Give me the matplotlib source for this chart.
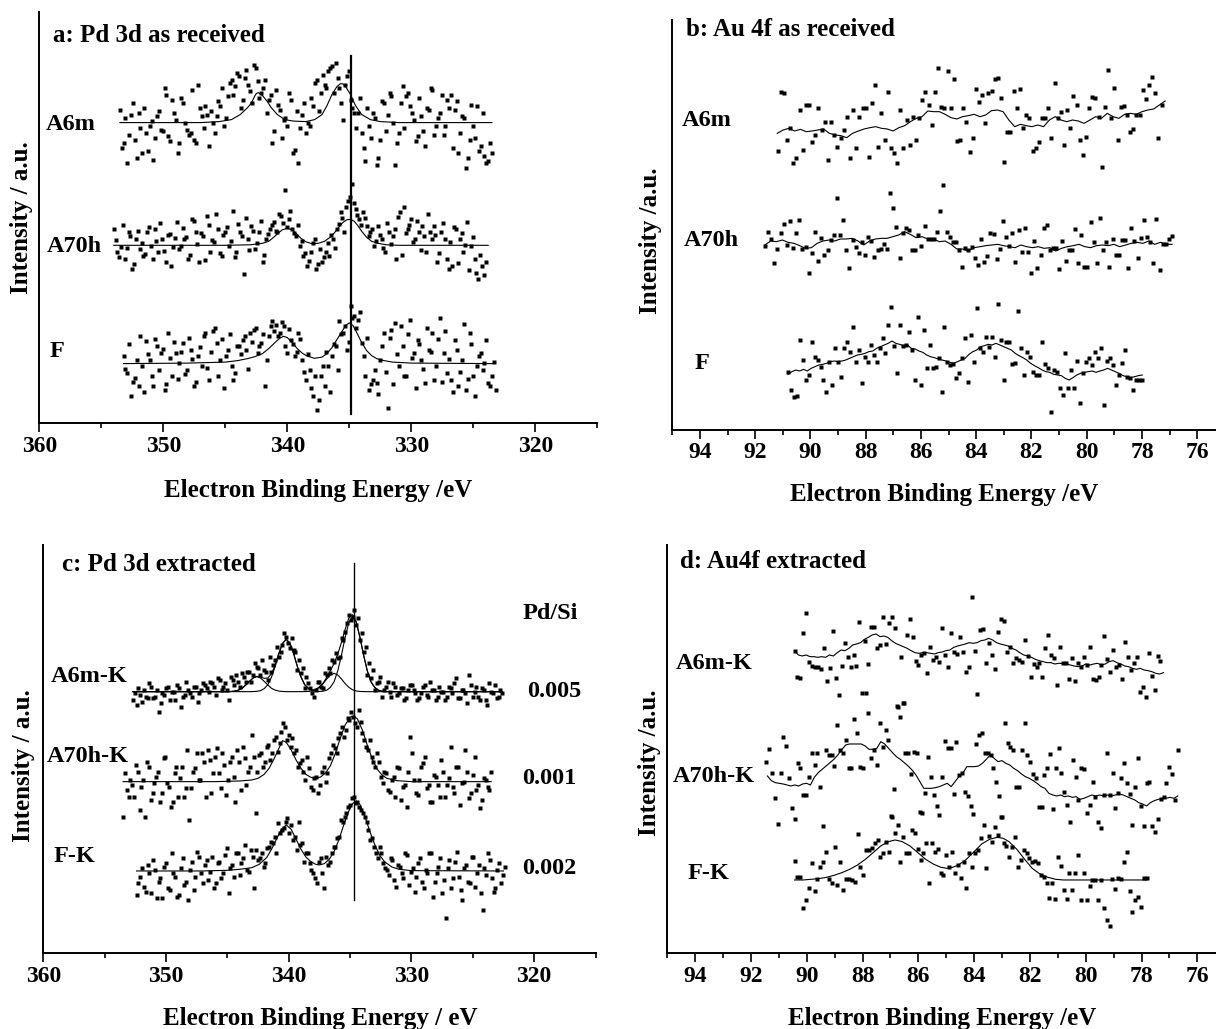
import numpy as np
import matplotlib
matplotlib.use("Agg")
import matplotlib.pyplot as plt
from matplotlib.ticker import MultipleLocator

plt.rcParams['font.family'] = ['Liberation Serif', 'DejaVu Serif']
plt.rcParams['font.weight'] = 'bold'

# ---------------- Panel a : Pd 3d as received (intensity offsets, a.u.) ----------------
a_base = [300.7, 178.0, 59.7]                     # stacking offsets A6m, A70h, F
a_A6m_range = (353.5, 323.5)
a_A6m = [13, -20, -40, 8, -17, 10, -30, -10, -3, -37, 7, -7,
         35, -13, 23, 3, -20, 20, -7, -10, -17, 38, 7, 17, -23, 0,
         7, 17, -3, 27, 43, 37, 47, 23, 53, 32, 58, 42, 30,
         43, 23, -20, 33, 13, 3, -3, 23, -27, -40, 8, -10, -3,
         17, 43, 30, 38, 52, 57, 60, 35, 3, 47, 23, 10,
         10, -10, -38, -3, 10, -42, -17, 20, 8, 27, -42, -10,
         37, 27, 17, 3, -13, 7, -23, 13, 33, -3, 10, -12, 23,
         28, 13, -30, 7, -45, -17, -3, 17, -23, -33, -38, -30]
a_A6m_2_range = (353.35, 323.65)
a_A6m_2 = [-25, 5, -12, 20, -35, -5, 15, -28, 2, -15, 12,
           -8, 28, -18, 10, -30, 25, 0, -12, 33, -20, 15, -5, 8,
           12, -10, 22, 35, 5, 40, 28, 50, 15, 45, 38, 20, 55, 25,
           35, 10, 28, -8, 18, -15, 5, 30, -30, 12, -5, 20, 0,
           25, 40, 12, 48, 35, 55, 30, 45, 20, 38, 52, 15,
           -5, 25, -25, 15, -15, 5, -35, 22, -8, 30, 0, -20,
           20, -5, 30, 10, -18, 25, -8, 15, 35, -12, 5, 28, -3,
           15, -25, 22, -10, 5, -35, 18, -15, -28, 10, -40, -20]
a_A70h_range = (354.0, 324.0)
a_A70h = [16, -7, -2, -14, 13, -24, 6, -4, -11, 13, -1, 16, -7, 6, -17, 11, -2,
          23, -1, 6, -14, 26, 13, -17, 9, 29, -7, 3, 16, -11, 13,
          -1, 34, -7, 13, -29, 6, 19, -4, 13, -17, 6,
          16, 23, 13, 29, 55, 26, 16, 9,
          -1, -11, -21, -7, 6, -19, -17,
          -7, -11, 6, 16, 33, 13, 44,
          61, 36, 26, 33, 19, 13, -1,
          19, 6, -7, 13, 9, -14, 33, 38, 16, 26, 6, 13, 19, -7, 13,
          19, -17, 13, 6, -24, -21, 16, 6, -7, 23, -1, -14, -34, -21, -17]
a_A70h_2_range = (353.85, 324.15)
a_A70h_2 = [5, -12, 20, -3, 9, -19, 14, 2, -9, 18, -14, 4, 22, -6, 10, -21, 7,
            -4, 17, 8, -10, 24, 1, 12, -15, 20, 5, 31, -8, 10, 18,
            4, -12, 21, 9, 27, -5, 14, 2, 24, -10, 11,
            20, 14, 31, 22, 18, 34, 12, 20,
            4, -8, -16, 2, -24, -4, -12,
            2, 10, -3, 21, 27, 38, 48,
            42, 30, 20, 27, 9, 16, 4,
            10, -3, 22, 1, 16, 28, -10, 12, 20, 3, 24, -5, 9, 31, 6,
            10, -8, 22, -14, 3, 18, -18, 12, 0, -25, 8, -28, -10, -30]
a_F_range = (353.2, 323.2)
a_F = [8, -9, -32, -14, -22, -2, 23, 4, -22, 18, 11, -26, 31, -12, 11, 1,
       21, -6, 14, -22, 8, -2, 31, -16, 33, 21, 4, -24, 14, -2, -9,
       18, 24, 14, 31, 34, 11, 21, -22, 28, 43,
       39, 31, 38, 11, 24, 8, 31,
       4, -16, -6, -32, -46, -12, -22, -2,
       8, 18, 43, 31, 14, 58,
       48, 44, 21, -12, -26, -16,
       -19, 4, 31, -44, 34, 41, -2, 18, -12, 44, 11, 24, 4, -19, 14, 31, -2,
       46, 11, -9, -16, 24, -22, 4, -26, 31, -12, -2, 11, 1, -19, -12, -26]
a_F_2_range = (353.05, 323.35)
a_F_2 = [-5, 20, -18, 4, 28, -28, 10, -12, 25, -6, 15, -20, 6, 22, -15, 12,
         -10, 26, 5, -18, 17, 28, -4, 12, 36, -12, 25, 8, 30, -16, 18,
         10, 28, -5, 22, 36, 18, 30, 4, 38, 33,
         28, 42, 18, 35, 20, 12, 25,
         -8, 10, -24, -12, -36, -2, 12, -28,
         20, -6, 30, 38, 22, 46,
         36, 52, 8, 26, -20, -6,
         -30, 18, -8, 26, -20, 10, 38, -12, 30, 6, -24, 20, -5, 36, 12, -16, 25,
         -18, 33, 5, -28, 14, -8, 40, -15, 20, -32, 8, -6, 24, -22, 2]
a_A6m_fit_x = [353.5, 347, 345.5, 344.5, 343.8, 343.2, 343.0, 342.8, 342.65, 342.5,
               342.35, 342.2, 342.0, 341.8, 341.55, 341.3, 340.8, 340.2, 339.5, 338.5,
               337.8, 337.2, 336.8, 336.4, 336.2, 336.0, 335.7, 335.5, 335.3, 335.1,
               334.9, 334.5, 334.0, 333.3, 332.5, 331, 323.5]
a_A6m_fit_y = [0, 0, 1, 3, 8, 15, 18, 22, 26, 29, 30, 29, 27, 24, 20, 15, 8, 3, 1.5, 1,
               3, 8, 17, 28, 32, 36, 39, 38.5, 36, 32, 28, 17, 8, 3, 1, 0, 0]
a_A70h_fit_x = [354.0, 345, 343, 342, 341.5, 341.1, 340.7, 340.4, 340.0, 339.6, 339.3,
                338.9, 338.5, 338.0, 337.5, 337.0, 336.6, 336.2, 335.8, 335.5, 335.2,
                334.9, 334.6, 334.3, 334.0, 333.6, 333.2, 332.7, 332.0, 331, 323.8]
a_A70h_fit_y = [0, 0, 0.5, 2, 4, 8, 12.5, 15.5, 17, 15.5, 12, 7, 3.5, 1.5, 2, 4, 7.5,
                12.5, 19, 23, 25.5, 26, 24, 19.5, 14, 8, 4, 2, 0.5, 0, 0]
a_F_fit_x = [353.2, 348, 345, 344, 343.2, 342.6, 342.0, 341.5, 341.0, 340.6, 340.3, 340.0,
             339.6, 339.2, 338.8, 338.4, 337.8, 337.2, 336.8, 336.4, 336.0, 335.6, 335.3,
             335.0, 334.7, 334.4, 334.0, 333.6, 333.2, 332.8, 332.2, 331.5, 330, 323.4]
a_F_fit_y = [0, 0.5, 1.5, 3, 5, 7, 10, 15, 21, 25.5, 27.3, 26, 21, 15, 10.5, 7.5, 5.3,
             6.5, 10, 16, 24, 32, 38, 40.7, 38, 31, 21, 13, 8, 5, 3, 1.5, 0.5, 0]
a_vline = (334.9, 9, 367)

# ---------------- Panel b : Au 4f as received (a.u.) ----------------
b_A6m_range = (91.19, 77.29)
b_A6m = [837, 1013, 1010, 870, 905, 800, 815, 960, 840, 975, 975, 865, 885, 965, 900, 925,
         810, 925, 885, 850, 875, 900, 940, 815, 960, 845, 940, 965, 965, 820, 980, 1035,
         850, 950, 870, 1013, 845, 830, 800, 960, 845, 930, 855, 940, 870, 935, 990, 1015,
         975, 915, 1015, 1085, 970, 965, 1077, 965, 1053, 867, 870, 967, 925, 835, 877,
         1023, 985, 1005, 920, 1010, 1017, 1053, 1057, 995, 805, 895, 893, 1017, 967, 1023,
         907, 945, 935, 837, 845, 865, 935, 935, 967, 875, 1040, 935, 955, 855, 960, 905,
         1002, 975, 870, 825, 880, 965, 1000, 995, 940, 790, 970, 1080, 935, 1025, 870, 970,
         972, 945, 895, 903, 945, 945, 1020, 993, 1035, 1060, 1010, 877, 975]
b_A6m_line_range = (91.2, 77.16)
b_A6m_line = [890, 900, 905, 897, 902, 895, 897, 900, 903, 890, 885, 883, 877, 890, 897, 903,
              907, 910, 905, 903, 897, 907, 913, 925, 935, 940, 957, 955, 955, 947, 937, 933,
              940, 943, 947, 940, 945, 958, 960, 955, 930, 910, 917, 913, 910, 915, 910, 930,
              940, 930, 925, 930, 927, 920, 930, 940, 935, 950, 940, 935, 947, 950, 947, 955,
              960, 963, 975, 987]
b_A70h_range = (91.65, 76.91)
b_A70h = [553, 593, 573, 500, 543, 590, 617, 555, 627, 545, 590, 630, 543, 550, 470, 530,
          595, 507, 575, 525, 540, 570, 585, 695, 585, 630, 540, 487, 570, 550, 530, 565,
          525, 580, 567, 520, 540, 543, 557, 543, 710, 665, 610, 515, 590, 607, 600, 540,
          540, 585, 553, 613, 573, 573, 573, 595, 657, 735, 595, 580, 565, 565, 540, 490,
          545, 540, 550, 515, 495, 573, 505, 523, 592, 587, 512, 543, 627, 580, 553, 590,
          505, 600, 535, 605, 535, 470, 567, 485, 525, 607, 615, 540, 545, 547, 483, 568,
          507, 540, 540, 602, 500, 585, 490, 490, 623, 565, 501, 635, 540, 565, 490, 573,
          525, 525, 570, 570, 487, 607, 567, 517, 577, 630, 579, 563, 500, 633, 480, 557,
          557, 573, 582]
b_A70h_line_range = (91.65, 76.91)
b_A70h_line = [555, 567, 565, 570, 563, 560, 553, 545, 547, 560, 567, 570, 567, 573, 573, 575,
               567, 555, 567, 573, 575, 575, 580, 585, 595, 587, 577, 580, 573, 573, 565, 567,
               557, 543, 543, 537, 547, 550, 553, 555, 557, 553, 550, 547, 555, 550, 547, 550,
               545, 547, 537, 545, 550, 553, 557, 550, 547, 553, 555, 553, 557, 550, 555, 560,
               563, 560, 567, 557, 563, 557, 557]
b_F_range = (90.81, 77.99)
b_F = [175, 120, 100, 102, 270, 210, 150, 165, 265, 220, 210, 190, 150, 115, 205, 135, 245,
       205, 160, 247, 265, 235, 310, 205, 240, 140, 220, 205, 255, 225, 205, 245, 275, 230,
       315, 370, 253, 170, 315, 253, 255, 295, 240, 150, 340, 135, 300, 185, 255, 185, 190,
       217, 115, 310, 205, 195, 197, 157, 170, 217, 275, 145, 285, 203, 365, 245, 235, 280,
       250, 280, 220, 377, 270, 150, 263, 265, 197, 200, 357, 245, 165, 233, 220, 173, 165,
       165, 263, 197, 185, 55, 180, 175, 125, 105, 230, 125, 180, 125, 207, 80, 170, 205,
       215, 195, 235, 215, 245, 75, 207, 215, 195, 135, 165, 200, 240, 160, 155, 120, 150,
       150, 150]
b_F_line_range = (90.81, 77.99)
b_F_line = [167, 175, 180, 177, 182, 177, 185, 190, 195, 197, 200, 205, 207, 205, 207, 210,
            215, 220, 225, 227, 230, 235, 237, 245, 250, 255, 260, 267, 260, 257, 253, 255,
            245, 243, 237, 233, 225, 220, 217, 213, 210, 207, 203, 200, 205, 210, 215, 227,
            235, 240, 250, 253, 257, 255, 260, 255, 250, 245, 240, 230, 223, 217, 210, 200,
            193, 187, 180, 175, 173, 167, 165, 163, 155, 150, 157, 165, 170, 173, 175, 177,
            173, 177, 180, 185, 180, 175, 170, 163, 160, 157, 160, 163, 165]

# ---------------- Panel c : Pd 3d extracted (a.u.) ----------------
c_base = [785, 515, 247]
c_A6m_range = (352.7, 322.6)
c_A6m = [760, 745, 775, 790, 765, 800, 770, 725, 780, 795, 760, 785, 805, 740, 775, 790,
         770, 800, 780, 810, 795, 815, 800, 825, 790, 810, 760, 820, 835, 800, 830, 845,
         815, 870, 855, 880, 845, 890, 865, 920, 905, 960, 930, 945, 905, 880, 855, 830,
         795, 770, 815, 800, 840, 855, 880, 900, 890, 940, 990, 1000, 1030, 1005, 960, 920,
         870, 850, 810, 830, 790, 815, 770, 800, 780, 795, 765, 805, 790, 760, 780, 805,
         770, 790, 760, 800, 785, 770, 795, 810, 765, 790, 780, 835, 770, 800, 760, 790,
         745, 785, 805, 770, 780]
c_A6m_2_range = (352.55, 322.75)
c_A6m_2 = [780, 795, 755, 770, 810, 765, 790, 750, 775, 800, 785, 760, 795, 770, 815, 780,
           800, 755, 790, 805,
           785, 810, 775, 820, 800, 790, 830, 805, 815, 840,
           815, 845, 835, 860, 835,
           850, 820, 845, 880, 890,
           925, 950, 915, 910, 850,
           840, 795, 810, 780, 790,
           815, 795, 835, 840, 875,
           885, 945, 965, 1015, 1010,
           985, 940, 905, 835, 825,
           790, 815, 770, 800, 785,
           810, 775, 795, 760, 790, 805, 780, 765, 800, 775, 815, 790, 770, 785, 760, 800,
           780, 825, 765, 790, 750, 805, 785, 770, 795, 760, 810, 780, 765, 790]
c_A70h_range = (353.5, 323.5)
c_A70h = [410, 490, 520, 470, 545, 500, 410, 560, 480, 530, 455, 585, 510, 440, 540, 470,
          560, 495, 400, 545, 600, 520, 575, 610, 480, 590, 540, 600, 475, 575, 530, 610,
          490, 585, 545, 655, 420, 595, 560, 620, 580, 640, 605, 665, 680, 655, 645, 610,
          570, 545, 590, 500, 525, 480, 545, 515, 585, 625, 600, 660, 650, 705, 725, 690,
          730, 660, 620, 640, 575, 600, 530, 545, 490, 520, 470, 555, 500, 440, 650, 520,
          475, 560, 590, 505, 455, 530, 470, 545, 505, 620, 480, 560, 510, 610, 465, 535,
          490, 435, 525, 500, 545]
c_A70h_2_range = (353.35, 323.65)
c_A70h_2 = [540, 470, 505, 565, 430, 520, 575, 460, 510, 545, 480, 590, 500, 455, 560, 525,
            470, 610, 495, 555,
            520, 600, 470, 580, 540, 615, 495, 565, 520, 590, 455, 575, 620, 505, 560,
            590, 545, 600, 575, 625, 600, 650, 630, 690, 640,
            620, 600, 560, 580, 520, 555, 490,
            530, 505, 560, 540, 600,
            615, 645, 680, 670, 700, 710, 680, 695, 640, 610,
            590, 560, 575, 510, 540, 485, 530, 560, 460, 505, 545, 600, 480, 520, 570, 495,
            455, 535, 505, 580, 470, 525, 500, 560, 445, 515, 545, 480, 590, 505, 460, 520,
            490]
c_F_range = (352.4, 322.4)
c_F = [175, 230, 200, 265, 180, 250, 215, 165, 270, 190, 240, 170, 255, 205, 160, 275,
       230, 290, 210, 280, 245, 195, 270, 225, 295, 180, 265, 300, 235, 285, 250, 310,
       195, 280, 300, 270, 320, 330, 300, 360, 375, 405, 385, 350, 395, 330, 300, 270,
       240, 210, 285, 195, 265, 300, 320, 350, 395, 420, 445, 470, 455, 430, 410, 370,
       345, 300, 320, 270, 250, 285, 220, 265, 240, 300, 205, 255, 230, 285, 195, 240,
       300, 215, 260, 180, 105, 280, 225, 305, 190, 255, 215, 290, 200, 265, 130, 235,
       280, 185, 250, 210, 260]
c_F_2_range = (352.25, 322.55)
c_F_2 = [210, 255, 185, 240, 280, 165, 225, 260, 195, 300, 230, 175, 285, 215, 250, 190,
         305, 240, 265, 220,
         290, 210, 275, 240, 315, 255, 230, 300, 270, 325, 245, 290, 310,
         285, 260, 315, 335, 350, 390, 370, 395, 360,
         340, 310, 325, 275, 300, 250, 225, 275, 240,
         290, 275, 320, 345, 400, 410, 440, 465, 450, 440,
         420, 395, 340, 320, 285, 300, 255,
         235, 280, 200, 260, 225, 295, 245, 185, 270, 215, 250, 300, 170, 240, 285, 220,
         255, 195, 275, 230, 160, 265, 210, 290, 240, 180, 255, 300, 225, 195, 270, 235]
c_A6m_fit_x = [352.7, 349, 346.5, 345.0, 344.7, 344.4, 344.1, 343.8, 343.5, 343.2, 342.9,
               342.6, 342.3, 342.0, 341.7, 341.4, 341.1, 340.8, 340.5, 340.2, 339.9, 339.6,
               339.3, 339.0, 338.7, 338.4, 338.1, 337.8, 337.5, 337.2, 336.9, 336.6, 336.3,
               336.0, 335.7, 335.4, 335.1, 334.8, 334.5, 334.2, 333.9, 333.6, 333.3, 333.0,
               332.7, 332.4, 332.1, 331.8, 329, 322.6]
c_A6m_compA = [0, 0, 0, 0, 0, 0, 0, 0, 0, 0, 0.3, 1, 3, 9, 21, 44, 76, 114, 145, 157, 145,
               114, 76, 44, 21, 9, 3, 1, 0.6, 1.4, 4.5, 13, 30, 63, 110, 163, 208, 225, 208,
               163, 110, 63, 30, 13, 4.5, 1.4, 0.4, 0, 0, 0]
c_A6m_compB = [0, 0, 0, 0.1, 0.5, 1.7, 4.5, 10, 20, 31, 41, 45, 41, 31, 20, 10, 4.5, 1.7,
               0.5, 0.1, 0, 0, 0, 0.1, 0.2, 0.6, 2, 5.6, 13, 24, 38, 50, 55, 50, 38, 24, 13,
               5.6, 2, 0.6, 0.2, 0, 0, 0, 0, 0, 0, 0, 0, 0]
c_A6m_fit = [0, 0, 0, 0, 0.5, 1.7, 4.5, 10, 20, 31, 41, 46, 44, 40, 41, 54, 80, 116, 145,
             157, 145, 114, 76, 44, 21, 10, 5, 7, 14, 25, 43, 63, 85, 113, 148, 187, 221,
             231, 210, 164, 110, 63, 30, 13, 4.5, 1.4, 0.4, 0, 0, 0]
c_A70h_fit_x = [353.5, 346, 344, 343, 342.5, 342, 341.6, 341.2, 340.8, 340.5, 340.2, 339.8,
                339.4, 339, 338.6, 338.2, 337.8, 337.4, 337, 336.6, 336.2, 335.8, 335.4,
                335, 334.7, 334.4, 334, 333.6, 333.2, 332.8, 332.4, 332, 331.2, 330, 323.5]
c_A70h_fit = [0, 0, 2, 5, 10, 22, 40, 68, 100, 123, 118, 95, 65, 40, 22, 13, 10, 14, 26,
              48, 85, 130, 170, 193, 197, 188, 155, 110, 68, 38, 20, 10, 3, 0, 0]
c_F_fit_x = [352.4, 347, 345, 344, 343, 342.4, 341.8, 341.4, 341, 340.6, 340.2, 339.8,
             339.4, 339, 338.6, 338.2, 337.8, 337.5, 337.1, 336.7, 336.3, 335.9, 335.5,
             335.1, 334.8, 334.5, 334.2, 333.8, 333.4, 333, 332.6, 332.2, 331.6, 331, 330,
             322.5]
c_F_fit = [0, 0, 2, 5, 10, 20, 40, 65, 95, 125, 138, 125, 95, 65, 42, 28, 20, 18, 22, 35,
           58, 95, 140, 180, 202, 210, 200, 165, 120, 80, 48, 28, 12, 5, 1, 0]
c_vline = (334.7, 160, 1170)
c_ratio_labels = ['0.005', '0.001', '0.002']

# ---------------- Panel d : Au 4f extracted (a.u.) ----------------
d_A6m_range = (90.44, 77.32)
d_A6m = [908, 830, 825, 960, 1022, 875, 862, 860, 860, 852, 915, 818, 855, 968, 825, 775,
         862, 932, 888, 860, 895, 862, 995, 780, 938, 868, 978, 978, 915, 925, 1010, 928,
         990, 1008, 975, 738, 888, 750, 955, 1002, 948, 878, 865, 895, 900, 840, 918, 880,
         890, 875, 975, 895, 860, 960, 905, 898, 948, 905, 845, 860, 1068, 908, 778, 970,
         972, 872, 932, 895, 852, 965, 1002, 998, 905, 918, 870, 885, 880, 875, 940, 892,
         828, 868, 860, 870, 828, 915, 955, 895, 885, 805, 920, 870, 872, 822, 885, 818,
         870, 860, 888, 865, 920, 822, 820, 830, 865, 952, 882, 845, 910, 860, 865, 822,
         935, 888, 850, 872, 888, 785, 800, 770, 900, 832, 790, 892, 878]
d_A6m_line_range = (90.44, 77.21)
d_A6m_line = [908, 895, 892, 895, 890, 890, 888, 890, 888, 895, 892, 902, 910, 908, 915, 925,
              928, 932, 942, 948, 955, 958, 950, 952, 948, 938, 930, 925, 920, 915, 908, 902,
              900, 902, 902, 900, 898, 902, 904, 908, 910, 918, 922, 925, 928, 932, 930, 932,
              938, 940, 945, 940, 932, 928, 925, 922, 915, 910, 902, 895, 892, 888, 882, 878,
              875, 872, 872, 868, 870, 870, 868, 865, 862, 860, 862, 868, 865, 868, 870, 865,
              868, 875, 878, 872, 868, 862, 860, 855, 852, 855, 850, 848, 845, 840, 838, 842]
d_A70h_range = (91.45, 76.70)
d_A70h = [575, 612, 540, 465, 388, 540, 650, 622, 525, 435, 402, 572, 555, 475, 475, 530,
          600, 565, 600, 500, 382, 610, 595, 595, 562, 685, 610, 600, 640, 555, 555, 702,
          660, 560, 555, 782, 722, 585, 610, 565, 692, 620, 670, 640, 412, 492, 742, 708,
          750, 600, 602, 538, 605, 600, 425, 422, 482, 588, 528, 475, 442, 415, 530, 638,
          615, 615, 478, 635, 535, 540, 485, 472, 442, 418, 628, 655, 660, 600, 600, 595,
          555, 515, 472, 410, 690, 632, 620, 610, 500, 500, 610, 690, 595, 575, 538, 525,
          440, 438, 535, 555, 598, 432, 555, 617, 540, 485, 445, 395, 580, 528, 460, 555,
          552, 420, 445, 515, 468, 395, 375, 475, 602, 475, 542, 435, 482, 525, 570, 512,
          478, 385, 500, 585, 442, 382, 510, 515, 382, 365, 402, 462, 468, 510, 558, 538,
          460, 610]
d_A70h_line_range = (91.41, 76.70)
d_A70h_line = [532, 518, 512, 510, 508, 505, 502, 505, 502, 508, 510, 505, 528, 542, 552, 562,
               572, 582, 595, 610, 625, 628, 628, 628, 628, 622, 612, 612, 615, 635, 628, 615,
               602, 590, 582, 572, 562, 550, 535, 515, 495, 495, 495, 497, 500, 505, 510, 500,
               515, 530, 540, 560, 560, 560, 562, 570, 582, 595, 585, 575, 578, 570, 565, 555,
               548, 538, 530, 525, 518, 510, 500, 495, 480, 475, 472, 475, 470, 472, 468, 470,
               462, 465, 470, 475, 472, 475, 472, 475, 472, 475, 478, 475, 470, 465, 460, 452,
               448, 442, 452, 458, 462, 465, 465, 468, 465, 472]
d_F_range = (90.44, 77.81)
d_F = [278, 230, 230, 135, 160, 195, 270, 188, 222, 260, 275, 305, 222, 210, 320, 205, 275,
       190, 222, 222, 220, 215, 358, 260, 235, 310, 310, 315, 332, 340, 290, 300, 335, 305,
       410, 360, 385, 275, 348, 300, 302, 370, 362, 312, 280, 300, 330, 212, 330, 305, 312,
       240, 235, 295, 260, 305, 240, 265, 225, 275, 195, 302, 260, 300, 310, 345, 385, 255,
       352, 335, 380, 355, 410, 330, 322, 290, 318, 350, 260, 280, 310, 300, 285, 275, 278,
       270, 235, 230, 210, 165, 210, 162, 290, 262, 190, 162, 240, 190, 240, 295, 160, 240,
       160, 202, 220, 220, 160, 220, 135, 100, 82, 222, 192, 225, 222, 275, 303, 188, 125,
       160, 170, 140, 225, 225]
d_F_fit_x = [90.44, 90.13, 89.85, 89.57, 89.29, 89.02, 88.74, 88.46, 88.18, 87.90, 87.62,
             87.35, 87.07, 86.83, 86.58, 86.30, 86.02, 85.74, 85.47, 85.19, 84.98, 84.77,
             84.56, 84.28, 84.00, 83.73, 83.45, 83.17, 82.96, 82.75, 82.47, 82.19, 81.92,
             81.64, 81.36, 81.08, 80.80, 80.38, 79.69, 78.99, 78.30, 77.81]
d_F_fit = [220, 220, 222, 224, 228, 234, 242, 252, 265, 282, 302, 322, 335, 340, 335, 322,
           302, 282, 268, 258, 255, 258, 265, 282, 305, 328, 342, 348, 345, 335, 312, 282,
           255, 238, 228, 222, 220, 220, 220, 220, 220, 220]

# ---------------- figure layout ----------------
W, H = 1216, 1029
fig = plt.figure(figsize=(W / 100, H / 100), dpi=100)


def add_axes(l, t, r, b):
    return fig.add_axes([l / W, 1 - b / H, (r - l) / W, (b - t) / H])


def style(ax, xlim, ylim, major, minor):
    ax.set_xlim(*xlim)
    ax.set_ylim(*ylim)
    for s in ('top', 'right'):
        ax.spines[s].set_visible(False)
    for s in ('left', 'bottom'):
        ax.spines[s].set_linewidth(1.4)
    ax.xaxis.set_major_locator(MultipleLocator(major))
    ax.xaxis.set_minor_locator(MultipleLocator(minor))
    ax.tick_params(axis='x', which='major', direction='out', length=6.5, width=1.2,
                   labelsize=17, pad=2.5)
    ax.tick_params(axis='x', which='minor', direction='out', length=3.5, width=1.2)
    ax.tick_params(axis='y', which='both', left=False, labelleft=False)
    ax.patch.set_alpha(0)


def dots(ax, rng, vals, base=0.0):
    x = np.linspace(rng[0], rng[1], len(vals))
    ax.plot(x, np.asarray(vals, float) + base, ls='none', marker='s', ms=2.3,
            mfc='k', mec='none', zorder=3)


def line(ax, x, y, base=0.0, lw=0.8):
    ax.plot(x, np.asarray(y, float) + base, color='k', lw=lw, zorder=4)


def uline(ax, rng, y, lw=0.8):
    x = np.linspace(rng[0], rng[1], len(y))
    ax.plot(x, y, color='k', lw=lw, zorder=4)


TXT = dict(fontsize=17.5, fontweight='bold', va='center')

# panel a
axA = add_axes(39.3, 12, 597.3, 423.3)
style(axA, (360, 315), (0, 411.3), 10, 5)
dots(axA, a_A6m_range, a_A6m, a_base[0])
dots(axA, a_A6m_2_range, a_A6m_2, a_base[0])
dots(axA, a_A70h_range, a_A70h, a_base[1])
dots(axA, a_A70h_2_range, a_A70h_2, a_base[1])
dots(axA, a_F_range, a_F, a_base[2])
dots(axA, a_F_2_range, a_F_2, a_base[2])
line(axA, a_A6m_fit_x, a_A6m_fit_y, a_base[0])
line(axA, a_A70h_fit_x, a_A70h_fit_y, a_base[1])
line(axA, a_F_fit_x, a_F_fit_y, a_base[2])
axA.plot([a_vline[0]] * 2, a_vline[1:], color='k', lw=1.6, zorder=5)
axA.text(358.9, 388, 'a: Pd 3d as received', ha='left', fontsize=18, fontweight='bold', va='center')
axA.text(357.5, 299, 'A6m', ha='center', **TXT)
axA.text(357.2, 177, 'A70h', ha='center', **TXT)
axA.text(358.6, 72, 'F', ha='center', **TXT)

# panel b
axB = add_axes(672.3, 20, 1216, 430)
style(axB, (95, 75.32), (0, 1230), 2, 1)
dots(axB, b_A6m_range, b_A6m)
dots(axB, b_A70h_range, b_A70h)
dots(axB, b_F_range, b_F)
uline(axB, b_A6m_line_range, b_A6m_line)
uline(axB, b_A70h_line_range, b_A70h_line)
uline(axB, b_F_line_range, b_F_line)
axB.text(94.5, 1203, 'b: Au 4f as received', ha='left', fontsize=18, fontweight='bold', va='center')
axB.text(93.75, 930, 'A6m', ha='center', **TXT)
axB.text(93.6, 570, 'A70h', ha='center', **TXT)
axB.text(93.93, 200, 'F', ha='center', **TXT)

# panel c
axC = add_axes(43.3, 545, 595.5, 953.3)
style(axC, (360, 315), (0, 1225), 10, 5)
dots(axC, c_A6m_range, c_A6m)
dots(axC, c_A6m_2_range, c_A6m_2)
dots(axC, c_A70h_range, c_A70h)
dots(axC, c_A70h_2_range, c_A70h_2)
dots(axC, c_F_range, c_F)
dots(axC, c_F_2_range, c_F_2)
line(axC, c_A6m_fit_x, c_A6m_compA, c_base[0])
line(axC, c_A6m_fit_x, c_A6m_compB, c_base[0])
line(axC, c_A6m_fit_x, c_A6m_fit, c_base[0])
line(axC, c_A70h_fit_x, c_A70h_fit, c_base[1])
line(axC, c_F_fit_x, c_F_fit, c_base[2])
axC.plot([c_vline[0]] * 2, c_vline[1:], color='k', lw=1.0, zorder=5)
axC.text(358.48, 1165, 'c: Pd 3d extracted', ha='left', fontsize=18, fontweight='bold', va='center')
axC.text(318.7, 1020, 'Pd/Si', ha='center', **TXT)
axC.text(356.3, 830, 'A6m-K', ha='center', **TXT)
axC.text(356.4, 590, 'A70h-K', ha='center', **TXT)
axC.text(357.5, 290, 'F-K', ha='center', **TXT)
for lab, yy, xx in zip(c_ratio_labels, [785, 525, 255], [318.4, 318.8, 318.8]):
    axC.text(xx, yy, lab, ha='center', **TXT)

# panel d
axD = add_axes(667.3, 545, 1216, 953.3)
style(axD, (95, 75.33), (0, 1225), 2, 1)
dots(axD, d_A6m_range, d_A6m)
dots(axD, d_A70h_range, d_A70h)
dots(axD, d_F_range, d_F)
uline(axD, d_A6m_line_range, d_A6m_line)
uline(axD, d_A70h_line_range, d_A70h_line)
line(axD, d_F_fit_x, d_F_fit)
axD.text(94.56, 1175, 'd: Au4f extracted', ha='left', fontsize=18, fontweight='bold', va='center')
axD.text(93.33, 870, 'A6m-K', ha='center', **TXT)
axD.text(93.33, 530, 'A70h-K', ha='center', **TXT)
axD.text(93.54, 240, 'F-K', ha='center', **TXT)

# axis titles
LAB = dict(fontsize=18, fontweight='bold', ha='center', va='center')
fig.text(318 / W, 1 - 491 / H, 'Electron Binding Energy /eV', **LAB)
fig.text(944 / W, 1 - 495 / H, 'Electron Binding Energy /eV', **LAB)
fig.text(320 / W, 1 - 1018 / H, 'Electron Binding Energy / eV', **LAB)
fig.text(942 / W, 1 - 1018 / H, 'Electron Binding Energy /eV', **LAB)
fig.text(21.8 / W, 1 - 218 / H, 'Intensity / a.u.', rotation=90, **LAB)
fig.text(651 / W, 1 - 241 / H, 'Intensity /a.u.', rotation=90, **LAB)
fig.text(23.6 / W, 1 - 766 / H, 'Intensity / a.u.', rotation=90, **LAB)
fig.text(649.7 / W, 1 - 763 / H, 'Intensity /a.u.', rotation=90, **LAB)

fig.savefig('out.png', dpi=100)
